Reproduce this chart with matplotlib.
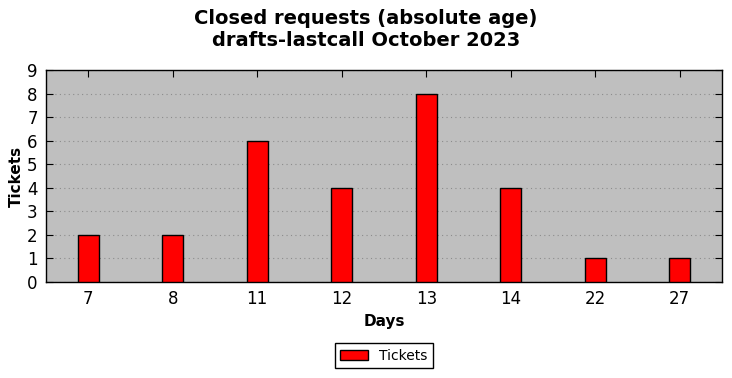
import matplotlib
matplotlib.use("Agg")
import matplotlib.pyplot as plt
import numpy as np

# data
days = ['7', '8', '11', '12', '13', '14', '22', '27']
tickets = [2, 2, 6, 4, 8, 4, 1, 1]

fig = plt.figure(figsize=(7.32, 3.78), dpi=100)
ax = fig.add_axes([46/732, 1 - 282/378, 676/732, 212/378])
ax.set_facecolor('#bfbfbf')

x = np.arange(len(days))
ax.bar(x, tickets, width=0.25, color='red', edgecolor='black', linewidth=1, label='Tickets', zorder=3)

ax.set_xlim(-0.5, len(days) - 0.5)
ax.set_ylim(0, 9)
ax.set_xticks(x)
ax.set_xticklabels(days)
ax.set_yticks(range(0, 10))
ax.tick_params(direction='in', top=True, right=True, labelsize=12, length=5, pad=6)
ax.yaxis.grid(True, linestyle=(0, (1, 3)), color='#8c8c8c', linewidth=0.8, zorder=0)
ax.set_axisbelow(True)
for s in ax.spines.values():
    s.set_linewidth(1)

ax.set_xlabel('Days', fontsize=11, fontweight='bold')
ax.set_ylabel('Tickets', fontsize=11, fontweight='bold', labelpad=2)
fig.suptitle('Closed requests (absolute age)\ndrafts-lastcall October 2023',
             fontsize=14, fontweight='bold', y=0.975)

ax.legend(loc='upper center', bbox_to_anchor=(0.5, -0.255), fontsize=10,
          fancybox=False, edgecolor='black', framealpha=1, handlelength=2)

fig.savefig('out.png', dpi=100)
